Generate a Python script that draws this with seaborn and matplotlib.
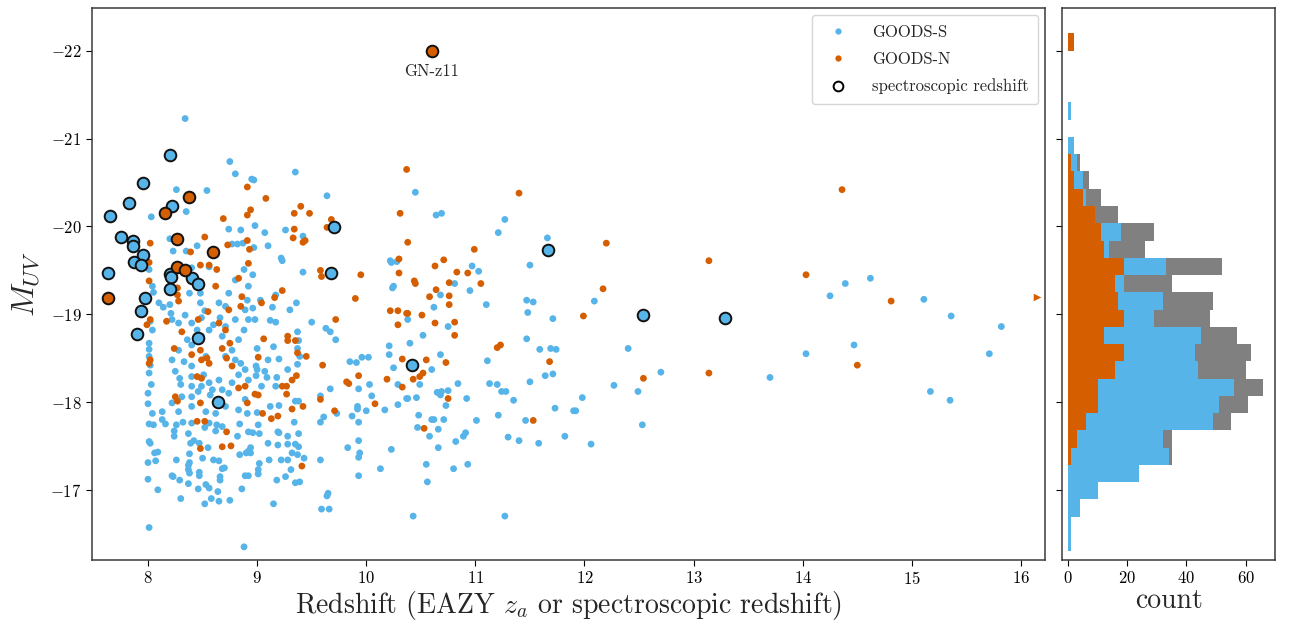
import numpy as np
import pandas as pd
import matplotlib
matplotlib.use("Agg")
import matplotlib.pyplot as plt
import seaborn as sns
from matplotlib.lines import Line2D

# ---------------------------------------------------------------------------
# GOODS-S photometric candidates: redshift and UV absolute magnitude
s_z = [
    8.34, 8.75, 8.80, 8.95, 8.26, 8.54, 8.35, 8.03, 8.74, 8.85, 8.20, 8.45, 8.77, 8.82, 8.87, 8.23, 8.35,
    9.35, 8.97, 9.64, 8.98, 9.07, 9.26, 9.42, 8.97, 9.10, 9.22, 10.22,
    8.01, 8.04, 8.05, 8.10, 8.14, 8.20, 8.21, 8.22, 8.02, 8.04, 8.01, 8.01, 8.01, 8.02, 8.01, 8.03, 8.00, 8.00, 8.04, 8.13, 8.13,
    8.38, 8.48, 8.52, 8.34, 8.28, 8.40, 8.45, 8.36, 8.40, 8.49, 8.28, 8.22, 8.33, 8.53, 8.40, 8.25, 8.29, 8.40, 8.51, 8.30,
    8.40, 8.49, 8.56, 8.59, 8.65, 8.46, 8.57, 8.68, 8.31, 8.40, 8.22, 8.28, 8.40, 8.53, 8.62,
    8.74, 8.77, 8.83, 8.85, 8.77, 8.83, 8.88, 8.92, 8.89, 8.91, 8.92, 8.88, 8.80, 8.71, 8.68, 8.71, 8.80, 8.89, 8.92, 8.89,
    8.83, 8.71, 8.91, 8.66, 8.60, 8.56, 8.49, 8.71, 8.80, 8.74, 8.65, 8.56, 8.48, 8.40,
    9.42, 8.96, 9.23, 9.17, 9.03, 8.96, 9.36, 9.30, 9.14, 9.12, 9.17, 8.98, 9.50, 9.63, 9.67, 9.72, 9.37, 9.38, 9.00, 9.15,
    9.10, 9.20, 8.99, 9.00, 9.07, 9.09, 8.99, 9.18, 9.28, 9.37, 9.39, 9.37, 9.04, 9.17, 9.67, 9.85, 9.91, 9.96, 10.02, 9.93,
    10.03, 10.05, 10.21, 10.21, 10.25, 10.29, 10.37, 10.29, 10.17, 10.23, 10.28, 10.24, 10.25, 10.38, 9.35, 9.38, 9.20, 9.12,
    9.00, 9.58, 9.73, 9.92, 9.92, 9.87, 9.61, 10.00,
    9.01, 9.34, 9.58, 9.93, 8.96, 9.02, 9.19, 9.20, 9.28, 9.38, 9.10, 9.19, 9.28, 9.35, 9.38, 9.32, 9.37, 9.43, 9.11, 9.22,
    9.28, 8.94, 8.94, 9.02, 9.01, 9.01, 9.31, 9.26, 9.18, 9.35, 9.39, 9.58, 9.83, 9.93, 9.94, 9.93, 9.93, 10.13, 10.23, 9.65,
    9.64, 9.15, 9.59, 9.66,
    8.01, 8.05, 8.16, 8.26, 8.32, 8.40, 8.56, 8.63, 8.68, 8.84, 8.92, 8.24, 8.24, 8.37, 8.52, 8.62, 8.82, 8.01, 8.02, 8.39,
    8.42, 8.47, 8.55, 8.06, 8.09, 8.38, 8.00, 8.07, 8.26, 8.50, 8.60, 8.65, 8.38, 8.37, 8.37, 8.38, 8.47, 8.47, 8.68, 8.70,
    8.84, 8.90, 8.92, 8.89, 8.92, 8.22, 8.23, 8.00, 8.29, 8.37, 8.66, 8.66, 8.53, 8.56, 8.46, 8.64, 8.86, 8.09, 8.30, 8.58,
    8.52, 8.65, 8.75, 8.01, 8.88,
    10.45, 10.64, 10.69, 11.27, 11.21, 11.66, 11.50, 10.97, 11.03, 10.81, 10.68, 10.95, 10.62, 11.10, 11.47, 11.53, 11.48, 11.71,
    10.75, 10.52, 10.40, 10.68, 10.60, 10.49, 10.38, 10.46, 10.65, 10.69, 10.68, 10.75, 10.84, 10.92, 10.73, 10.48, 10.60, 10.62,
    10.71, 10.47, 10.66, 10.58, 10.66, 10.82, 10.89, 10.91, 11.01, 10.55, 10.80, 10.93, 10.56, 10.43, 11.27, 11.11, 11.13, 11.20,
    11.24, 11.28, 11.35, 11.21, 11.46, 11.30, 11.40, 11.58, 11.82, 11.73, 11.50, 11.64, 11.71, 11.47, 11.59, 11.69, 11.74, 11.90,
    12.09, 12.40, 12.70, 12.27, 12.49, 11.98, 11.92, 12.53, 13.70, 14.03, 14.47, 14.25, 14.39, 14.62, 15.11, 15.36, 15.82, 15.71,
    15.17, 15.35, 12.06,
]
s_muv = [
    -21.23, -20.74, -20.60, -20.54, -20.42, -20.41, -20.17, -20.11, -19.97, -19.96, -19.86, -19.78, -19.80, -19.80, -19.81, -19.72, -19.72,
    -20.62, -20.53, -20.35, -20.01, -19.93, -19.96, -19.89, -19.76, -19.78, -19.64, -19.61,
    -19.51, -19.32, -19.25, -19.13, -19.08, -19.11, -19.01, -18.94, -18.92, -18.82, -18.67, -18.60, -18.52, -18.42, -18.33, -18.20, -18.10, -17.98, -17.87, -17.89, -17.80,
    -19.24, -19.13, -19.04, -18.99, -18.90, -18.90, -18.82, -18.71, -18.65, -18.75, -18.59, -18.48, -18.46, -18.52, -18.41, -18.35, -18.27, -18.29, -18.31, -18.20,
    -18.18, -18.18, -18.22, -18.14, -18.25, -18.12, -18.08, -18.14, -18.06, -18.06, -17.99, -17.89, -17.95, -17.89, -17.87,
    -18.10, -18.22, -18.31, -18.44, -18.59, -18.71, -18.82, -18.94, -19.05, -19.16, -19.32, -19.51, -19.39, -18.86, -18.75, -18.52, -18.48, -18.37, -18.25, -18.03,
    -17.91, -17.95, -17.87, -18.96, -18.88, -18.82, -18.96, -19.09, -18.94, -19.24, -19.13, -19.54, -19.24, -19.53,
    -19.48, -19.45, -19.61, -19.22, -19.16, -19.07, -19.13, -19.05, -19.08, -18.93, -18.91, -18.94, -18.91, -18.84, -18.80, -18.71, -18.80, -18.70, -18.61, -18.63,
    -18.48, -18.49, -18.41, -18.37, -18.35, -18.28, -18.30, -18.28, -18.37, -18.43, -18.52, -18.61, -18.18, -18.18, -18.15, -18.46, -18.45, -18.51, -18.51, -18.15,
    -18.20, -18.07, -18.64, -18.54, -18.39, -18.20, -18.04, -17.97, -17.91, -19.59, -19.60, -19.30, -19.32, -18.94, -18.01, -18.01, -17.96, -17.95,
    -17.88, -18.07, -17.87, -17.95, -17.92, -17.84, -17.83, -17.90,
    -17.74, -17.77, -17.77, -17.77, -17.65, -17.64, -17.66, -17.65, -17.61, -17.64, -17.53, -17.51, -17.52, -17.52, -17.49, -17.42, -17.40, -17.36, -17.34, -17.34,
    -17.34, -17.48, -17.42, -17.30, -17.23, -17.18, -17.23, -17.15, -17.11, -17.08, -17.09, -17.34, -17.48, -17.56, -17.42, -17.37, -17.16, -17.24, -17.46, -16.96,
    -16.93, -16.84, -16.78, -16.78,
    -17.75, -17.74, -17.75, -17.74, -17.77, -17.76, -17.76, -17.74, -17.72, -17.75, -17.66, -17.67, -17.61, -17.64, -17.71, -17.67, -17.61, -17.55, -17.53, -17.53,
    -17.56, -17.53, -17.48, -17.42, -17.43, -17.41, -17.31, -17.33, -17.34, -17.36, -17.34, -17.33, -17.31, -17.28, -17.23, -17.19, -17.20, -17.16, -17.24, -17.25,
    -17.40, -17.42, -17.44, -17.16, -17.16, -17.16, -17.15, -17.12, -17.11, -17.07, -17.11, -17.15, -17.06, -17.02, -17.01, -16.98, -17.01, -17.00, -16.90, -16.90,
    -16.84, -16.87, -16.88, -16.57, -16.35,
    -20.39, -20.13, -20.15, -20.08, -19.93, -19.87, -19.56, -19.55, -19.49, -19.35, -19.22, -19.27, -19.08, -19.11, -19.16, -19.14, -19.02, -18.95,
    -18.86, -18.76, -18.67, -18.54, -18.37, -18.20, -18.04, -18.05, -18.11, -18.12, -18.08, -18.13, -18.21, -18.04, -17.96, -17.85, -17.80, -17.80,
    -17.80, -17.71, -17.69, -17.61, -17.48, -17.55, -17.61, -17.65, -17.79, -17.29, -17.24, -17.29, -17.09, -16.70, -16.70, -18.47, -18.21, -18.20,
    -18.12, -18.12, -18.02, -17.85, -17.79, -17.60, -17.56, -17.53, -17.61, -17.93, -18.23, -18.30, -18.32, -18.72, -18.60, -18.61, -18.60, -17.90,
    -19.15, -18.61, -18.34, -18.19, -18.12, -18.05, -17.90, -17.74, -18.28, -18.55, -18.65, -19.21, -19.35, -19.41, -19.17, -18.98, -18.86, -18.55,
    -18.12, -18.02, -17.52,
]

# GOODS-N photometric candidates
n_z = [
    8.91, 8.94, 8.69, 8.91, 8.02, 8.52, 8.73, 8.91, 8.39, 8.93,
    10.37, 9.08, 9.40, 9.34, 9.48, 9.68, 9.64, 9.34, 9.33, 9.42, 9.44, 10.31, 10.38, 10.30,
    8.01, 8.01, 8.27, 8.27, 8.28, 8.02, 7.99, 8.17, 8.31, 8.24, 8.02, 8.01, 8.40, 8.48, 8.49, 8.54, 8.56, 8.72, 8.75, 8.68,
    8.71, 8.65, 8.74, 8.85, 8.86, 8.83, 8.92, 8.48, 8.56, 8.63, 8.62, 8.55, 8.46, 8.45, 8.49, 8.83, 8.89, 8.91, 8.25, 8.27,
    8.48, 8.77,
    9.58, 9.59, 9.95, 9.23, 9.04, 9.16, 9.90, 9.72, 9.28, 9.28, 9.35, 9.06, 9.01, 9.37, 9.45, 9.60, 9.36, 9.32, 9.27, 9.23,
    8.98, 9.01, 9.27, 9.42, 9.58, 9.71, 9.82, 9.84, 9.93, 10.19, 10.33, 10.30, 10.29, 10.22, 10.29, 10.37, 10.08, 10.33, 9.05, 9.19,
    9.32, 9.13, 9.41,
    8.45, 8.52, 8.72, 8.48, 8.68, 8.76,
    11.40, 10.99, 10.71, 10.63, 10.83, 10.93, 10.44, 10.45, 10.76, 11.05, 10.64, 10.58, 10.76, 10.76, 10.38, 10.51,
    10.63, 10.81, 10.81, 11.20, 11.23, 10.55, 10.73, 10.43, 10.49, 10.52, 10.75, 11.68, 11.53, 10.53,
    14.36, 12.20, 13.14, 12.17, 14.03, 14.81, 11.99, 12.54, 13.14, 14.50,
]
n_muv = [
    -20.45, -20.19, -20.09, -20.13, -19.81, -19.88, -19.79, -19.84, -19.71, -19.74,
    -20.65, -20.32, -20.23, -20.15, -20.15, -20.08, -19.99, -19.97, -19.87, -19.82, -19.84, -20.15, -19.82, -19.63,
    -19.59, -19.38, -19.30, -19.22, -19.15, -18.94, -18.88, -18.92, -18.80, -18.61, -18.48, -18.44, -18.54, -18.59, -18.48, -18.50, -18.44, -18.50, -18.67, -18.61,
    -18.82, -18.90, -19.05, -19.09, -19.20, -19.41, -19.58, -19.56, -19.56, -19.51, -19.32, -19.03, -18.94, -18.29, -18.27, -18.16, -18.18, -17.99, -18.06, -18.01,
    -17.99, -18.41,
    -19.50, -19.43, -19.45, -19.27, -19.13, -19.19, -19.18, -18.94, -18.75, -18.70, -18.70, -18.72, -18.51, -18.56, -18.52, -18.42, -18.30, -18.25, -18.18, -18.18,
    -18.09, -18.08, -18.09, -17.95, -18.03, -17.90, -18.23, -18.21, -18.30, -18.26, -18.49, -19.47, -18.88, -19.04, -19.04, -19.01, -17.98, -18.17, -17.87, -17.84,
    -17.92, -17.81, -17.27,
    -17.78, -17.78, -17.66, -17.47, -17.49, -17.50,
    -20.38, -19.74, -19.62, -19.55, -19.48, -19.47, -19.38, -19.35, -19.36, -19.35, -19.28, -19.20, -19.21, -19.11, -19.01, -18.99,
    -18.90, -18.91, -18.76, -18.62, -18.65, -18.48, -18.45, -18.26, -18.29, -18.33, -18.04, -18.46, -17.79, -17.70,
    -20.42, -19.81, -19.61, -19.29, -19.45, -19.15, -18.98, -18.27, -18.33, -18.42,
]

# GOODS-N source lying beyond the plotted redshift range (shown at the edge)
n_edge_z = [16.15]
n_edge_muv = [-19.20]

# Sources with spectroscopic redshifts
spec_s_z = [8.20, 7.95, 7.83, 8.22, 7.65, 7.75, 7.86, 7.86, 7.95, 7.87, 7.94, 7.63, 8.20, 8.21,
            8.40, 8.46, 8.20, 7.97, 7.94, 7.90, 8.46, 8.64, 9.70, 9.68, 10.42, 11.67, 12.54, 13.29]
spec_s_muv = [-20.82, -20.50, -20.27, -20.23, -20.12, -19.88, -19.84, -19.78, -19.67, -19.60, -19.56, -19.47, -19.46, -19.42,
              -19.41, -19.35, -19.29, -19.19, -19.04, -18.77, -18.73, -18.00, -19.99, -19.47, -18.42, -19.73, -18.99, -18.96]
spec_n_z = [10.60, 8.38, 8.16, 8.27, 8.60, 8.27, 8.34, 7.63]
spec_n_muv = [-22.00, -20.34, -20.15, -19.86, -19.71, -19.54, -19.50, -19.18]

# M_UV histogram: counts per bin, bright to faint
hist_lo, hist_hi, hist_nbins = -22.2, -16.3, 30
hist_s = [0, 0, 0, 0, 1, 0, 2, 3, 5, 6, 8, 18, 14, 33, 19, 32, 29, 45, 43, 44,
          56, 51, 49, 32, 34, 24, 10, 4, 1, 1]
hist_n = [2, 0, 0, 0, 0, 0, 0, 1, 2, 5, 9, 11, 12, 19, 16, 17, 19, 12, 19, 16,
          10, 10, 6, 3, 1, 0, 0, 0, 0, 0]

fields = ["GOODS-S", "GOODS-N"]
annot_name = "GN-z11"
# ---------------------------------------------------------------------------

BLUE = "#56B4E9"
ORANGE = "#D55E00"
GREY = "#808080"

sns.set_style("ticks")
plt.rcParams.update({
    "font.family": "serif",
    "font.serif": ["cmr10", "DejaVu Serif"],
    "mathtext.fontset": "cm",
    "axes.formatter.use_mathtext": True,
    "axes.edgecolor": "#3a3a3a",
    "axes.linewidth": 1.1,
    "xtick.color": "black",
    "ytick.color": "black",
    "xtick.direction": "out",
    "ytick.direction": "out",
    "xtick.major.size": 4,
    "ytick.major.size": 4,
})

fig = plt.figure(figsize=(12.89, 6.22), dpi=100)
ax = fig.add_axes([0.0714, 0.0997, 0.7393, 0.8875])
axh = fig.add_axes([0.8240, 0.0997, 0.1652, 0.8875], sharey=ax)

phot = pd.DataFrame({
    "z": s_z + n_z,
    "muv": s_muv + n_muv,
    "field": [fields[0]] * len(s_z) + [fields[1]] * len(n_z),
})
palette = {fields[0]: BLUE, fields[1]: ORANGE}

sns.scatterplot(data=phot, x="z", y="muv", hue="field", palette=palette,
                s=24, linewidth=0, legend=False, ax=ax, zorder=2)
sns.scatterplot(x=n_edge_z, y=n_edge_muv, color=ORANGE, marker=">", s=30,
                linewidth=0, ax=ax, zorder=2, clip_on=False)

sns.scatterplot(x=spec_s_z, y=spec_s_muv, color=BLUE, edgecolor="#111111",
                linewidth=1.4, s=70, ax=ax, zorder=3)
sns.scatterplot(x=spec_n_z, y=spec_n_muv, color=ORANGE, edgecolor="#111111",
                linewidth=1.4, s=70, ax=ax, zorder=3)

ax.text(spec_n_z[0], spec_n_muv[0] + 0.23, annot_name, ha="center", va="center",
        fontsize=12)

ax.set_xlim(7.487, 16.22)
ax.set_ylim(-16.20, -22.49)
ax.set_xticks(range(8, 17))
ax.set_yticks(range(-22, -16))
ax.tick_params(labelsize=12)
ax.set_xlabel(r"Redshift (EAZY $z_a$ or spectroscopic redshift)", fontsize=20, labelpad=1)
ax.set_ylabel(r"$M_{UV}$", fontsize=23, labelpad=6)

handles = [
    Line2D([], [], marker="o", linestyle="", markersize=4.5, markerfacecolor=BLUE,
           markeredgewidth=0, label=fields[0]),
    Line2D([], [], marker="o", linestyle="", markersize=4.5, markerfacecolor=ORANGE,
           markeredgewidth=0, label=fields[1]),
    Line2D([], [], marker="o", linestyle="", markersize=7, markerfacecolor="none",
           markeredgecolor="black", markeredgewidth=1.4, label="spectroscopic redshift"),
]
ax.legend(handles=handles, loc="upper right", fontsize=12, frameon=True,
          borderpad=0.6, labelspacing=0.7, handletextpad=1.0, borderaxespad=0.4)

# Marginal histogram: total (grey), GOODS-S (blue) and GOODS-N (orange)
edges = list(np.linspace(hist_lo, hist_hi, hist_nbins + 1))
centers = [0.5 * (a + b) for a, b in zip(edges[:-1], edges[1:])]
hist_total = [a + b for a, b in zip(hist_s, hist_n)]
for counts, col in [(hist_total, GREY), (hist_s, BLUE), (hist_n, ORANGE)]:
    hdf = pd.DataFrame({"muv": centers, "count": counts})
    sns.histplot(data=hdf, y="muv", weights="count", bins=edges, color=col,
                 alpha=1, linewidth=0, ax=axh)

axh.set_xlim(-2, 70)
axh.set_xticks([0, 20, 40, 60])
axh.tick_params(labelleft=False, labelsize=12)
axh.set_xlabel("count", fontsize=20, labelpad=1)
axh.set_ylabel("")

fig.savefig("out.png", dpi=100)
